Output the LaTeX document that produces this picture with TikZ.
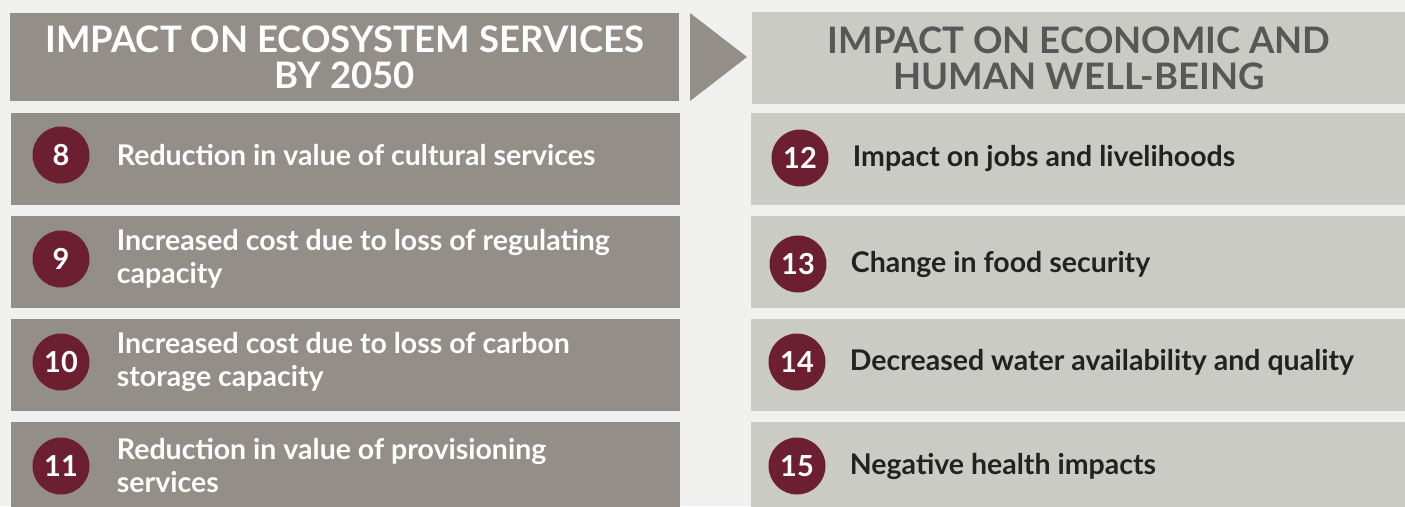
\documentclass[tikz,border=0pt]{standalone}
\usepackage{fontspec}
\setmainfont{Lato}
\usetikzlibrary{positioning}
\definecolor{pagebg}{HTML}{F0F0EE}
\definecolor{ecobox}{HTML}{938E87}
\definecolor{humanbox}{HTML}{CBCBC5}
\definecolor{numred}{HTML}{6B1F30}
\definecolor{headgray}{HTML}{575757}
\definecolor{bodydark}{HTML}{222222}

\begin{document}
\begin{tikzpicture}[x=1pt,y=-1pt,
 ecocell/.style={fill=ecobox,minimum width=669pt,minimum height=92pt,anchor=north west,inner sep=0pt},
 humancell/.style={fill=humanbox,minimum width=654pt,minimum height=92pt,anchor=north west,inner sep=0pt},
 headtext/.style={align=center,font=\bfseries\fontsize{36.5}{36}\selectfont},
 num/.style={circle,fill=numred,minimum size=57pt,inner sep=0pt,text=white,font=\bfseries\fontsize{29}{29}\selectfont},
 ecotext/.style={right=27pt of #1,anchor=west,align=left,inner sep=0pt,text=white,font=\bfseries\fontsize{28.5}{33}\selectfont},
 humantext/.style={right=24pt of #1,anchor=west,align=left,inner sep=0pt,text=bodydark,font=\bfseries\fontsize{28.5}{33}\selectfont}]
\clip (0,0) rectangle (1405,506);
\fill[pagebg] (0,0) rectangle (1405,506);

% headers
\node[ecocell,minimum height=88pt,headtext,text=white] (ecohead) at (10,13) {IMPACT ON ECOSYSTEM SERVICES\\BY 2050};
\node[humancell,headtext,text=headgray] (humanhead) at (752,12) {IMPACT ON ECONOMIC AND\\HUMAN WELL-BEING};
\fill[ecobox] (690,13) -- (747,57) -- (690,101) -- cycle;

% ecosystem services
\node[ecocell] (eco8) at (11,113) {};
\node[ecocell] (eco9) at (11,216) {};
\node[ecocell] (eco10) at (11,319) {};
\node[ecocell] (eco11) at (11,422) {};
\node[num] (n8) at (61,155) {8};
\node[num] (n9) at (61,259) {9};
\node[num] (n10) at (61,362) {10};
\node[num] (n11) at (61,466) {11};
\node[ecotext=n8] (t8) {Reduction in value of cultural services};
\node[ecotext=n9] (t9) {Increased cost due to loss of regulating\\capacity};
\node[ecotext=n10] (t10) {Increased cost due to loss of carbon\\storage capacity};
\node[ecotext=n11] (t11) {Reduction in value of provisioning\\services};

% economic and human well-being
\node[humancell] (hum12) at (751,113) {};
\node[humancell] (hum13) at (751,216) {};
\node[humancell] (hum14) at (751,319) {};
\node[humancell] (hum15) at (751,422) {};
\node[num] (n12) at (800,158) {12};
\node[num] (n13) at (798,264) {13};
\node[num] (n14) at (797,362) {14};
\node[num] (n15) at (797,466) {15};
\node[humantext=n12] (t12) {Impact on jobs and livelihoods};
\node[humantext=n13] (t13) {Change in food security};
\node[humantext=n14] (t14) {Decreased water availability and quality};
\node[humantext=n15] (t15) {Negative health impacts};
\end{tikzpicture}
\end{document}
